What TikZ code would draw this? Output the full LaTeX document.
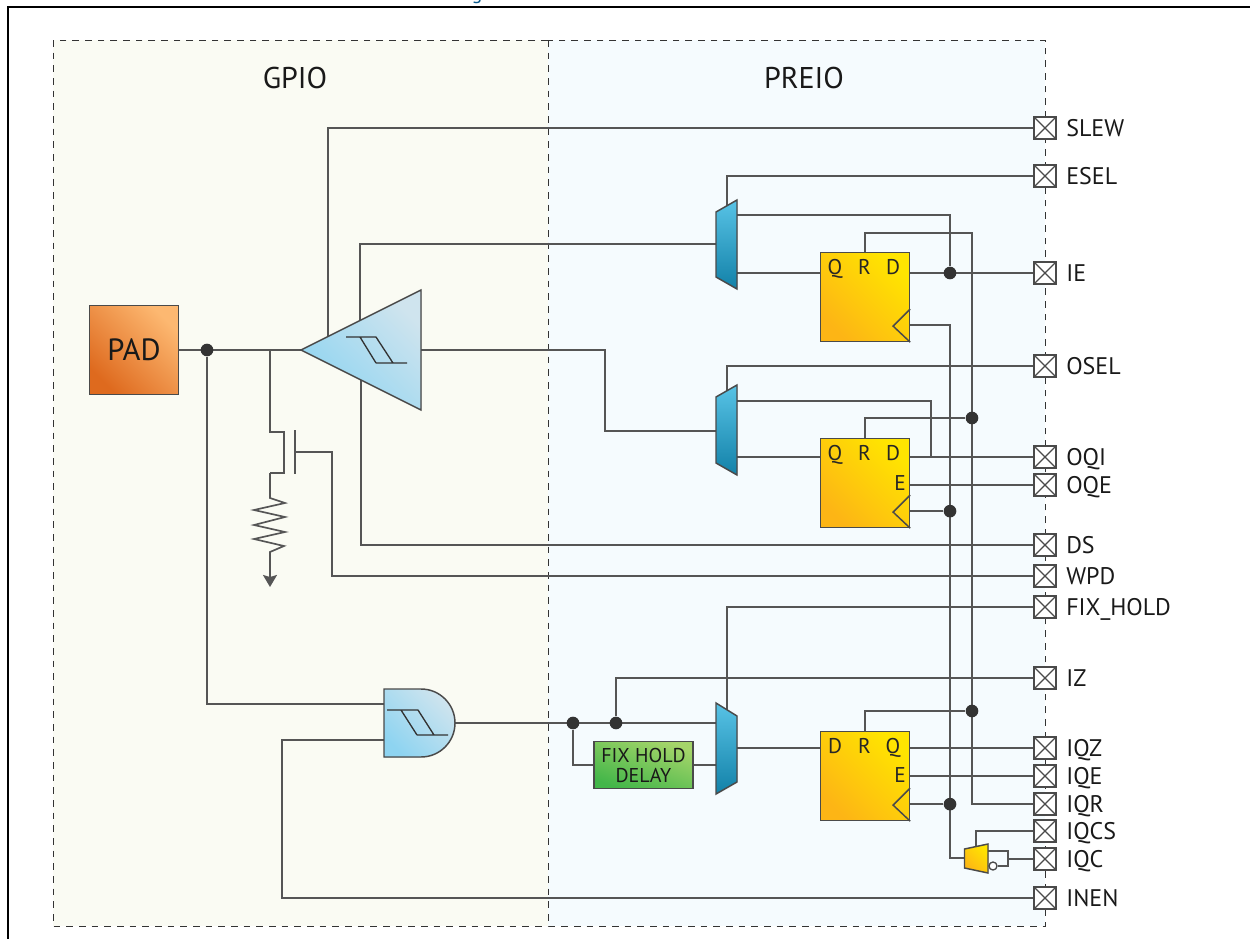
\documentclass[tikz,border=0pt]{standalone}
\usepackage{fontspec}
\setmainfont{PT Sans}
\usetikzlibrary{arrows.meta,calc}
\pgfdeclarelayer{panels}
\pgfdeclarelayer{wires}
\pgfsetlayers{panels,wires,main}
\definecolor{wirec}{HTML}{555555}
\definecolor{edgec}{HTML}{4A4A4A}
\definecolor{dotc}{HTML}{333333}
\definecolor{gpiobg}{HTML}{FAFBF3}
\definecolor{preiobg}{HTML}{F5FBFE}
\definecolor{linkc}{HTML}{0B5A8C}
\tikzset{
  x=0.75pt,y=-0.75pt,
  wire/.style={draw=wirec,line width=1.25pt},
  panel/.style={draw=dotc,line width=0.75pt,dash pattern=on 5pt off 4.5pt},
  pinbox/.style={rectangle,draw=edgec,line width=1.2pt,fill=white,minimum size=16.5pt,inner sep=0pt,
    path picture={\draw[edgec,line width=0.9pt] (path picture bounding box.north west)--(path picture bounding box.south east)
      (path picture bounding box.north east)--(path picture bounding box.south west);}},
  pinlabel/.style={anchor=base west,inner sep=0pt,font=\fontsize{18pt}{20pt}\selectfont,text=black!90},
  title/.style={inner sep=0pt,anchor=base,font=\fontsize{22.5pt}{24pt}\selectfont,text=black!90},
  junction/.style={circle,fill=dotc,inner sep=0pt,minimum size=9.5pt},
  ffbox/.style={rectangle,draw=edgec,line width=1.1pt,minimum size=66.5pt,inner sep=0pt,
    left color=ffa,right color=ffb,shading angle=135},
  fftext/.style={inner sep=0pt,anchor=base,font=\fontsize{16pt}{16pt}\selectfont,text=black!85},
  muxshape/.style={draw=edgec,line width=1.1pt,top color=muxa,bottom color=muxb},
  buffershape/.style={draw=edgec,line width=1.1pt,left color=bufa,right color=bufb,shading angle=135},
  schmitt/.style={draw=dotc,line width=1pt},
  padbox/.style={rectangle,draw=edgec,line width=1.1pt,minimum size=66.5pt,inner sep=0pt,
    left color=pada,right color=padb,shading angle=135,font=\fontsize{23pt}{24pt}\selectfont,text=black!90},
  delaybox/.style={rectangle,draw=edgec,line width=1.1pt,minimum width=74pt,minimum height=35pt,inner sep=0pt,
    align=center,left color=grna,right color=grnb,shading angle=160,font=\fontsize{15pt}{17pt}\selectfont,text=black!90},
}
\definecolor{ffa}{HTML}{FDB515}
\definecolor{ffb}{HTML}{FFE500}
\definecolor{muxa}{HTML}{58C3E6}
\definecolor{muxb}{HTML}{1281A8}
\definecolor{bufa}{HTML}{8ED4F1}
\definecolor{bufb}{HTML}{CFE4EE}
\definecolor{pada}{HTML}{DE6A1E}
\definecolor{padb}{HTML}{FDB871}
\definecolor{grna}{HTML}{43B649}
\definecolor{grnb}{HTML}{A5D56A}
\newcommand{\pinat}[3]{%
  \node[pinbox] (p#1) at (1045,#2) {};
  \node[pinlabel] (l#1) at (1066,#2+8.5) {#3};}
\newcommand{\flipflop}[2]{% name, top-left
  \node[ffbox,anchor=north west] (#1) at (#2) {};
  \draw[edgec,line width=1.1pt] ($(#1.south east)+(0,-33)$) -- ($(#1.south east)+(-17,-16)$) -- (#1.south east);
  \coordinate (#1clk) at ($(#1.south east)+(0,-17)$);}
\begin{document}
\begin{tikzpicture}
\useasboundingbox (0,0) rectangle (1250,939);
\begin{pgfonlayer}{panels}
  \fill[white] (0,0) rectangle (1250,939);
  \draw[black,line width=1.5pt] (8,939) -- (8,6.5) -- (1250,6.5);
  \node[inner sep=0pt,anchor=base,text=linkc,font=\fontsize{15pt}{16pt}\selectfont] (topg) at (477,-1) {g};
  \filldraw[panel,fill=gpiobg] (53,40) rectangle (548,926);
  \filldraw[panel,fill=preiobg] (548,40) rectangle (1045,926);
\end{pgfonlayer}

\node[title] (tgpio) at (295,88) {GPIO};
\node[title] (tpreio) at (804,88) {PREIO};

% pins
\pinat{slew}{128}{SLEW}
\pinat{esel}{176}{ESEL}
\pinat{ie}{273}{IE}
\pinat{osel}{366}{OSEL}
\pinat{oqi}{457}{OQI}
\pinat{oqe}{485}{OQE}
\pinat{ds}{545}{DS}
\pinat{wpd}{576}{WPD}
\pinat{fix}{607}{FIX\_HOLD}
\pinat{iz}{678}{IZ}
\pinat{iqz}{748}{IQZ}
\pinat{iqe}{776}{IQE}
\pinat{iqr}{804}{IQR}
\pinat{iqcs}{831}{IQCS}
\pinat{iqc}{859}{IQC}
\pinat{inen}{898}{INEN}

% pad
\node[padbox] (pad) at (134,350) {PAD};

% input buffer
\filldraw[buffershape] (301,350) -- (421,290) -- (421,410) -- cycle;
\draw[schmitt] (346,337) -- (376,337) (360,337) -- (376,363) (376,337) -- (393,363) (376,363) -- (407,363);
\coordinate (buftip) at (301,350);
\coordinate (bufout) at (421,350);
\coordinate (bufslew) at (328,337);
\coordinate (bufie) at (360,320);
\coordinate (bufds) at (361,380);

% schmitt AND
\filldraw[buffershape] (384,689) -- (421,689) arc (-90:90:34) -- (384,757) -- cycle;
\draw[schmitt] (387,710) -- (418,710) (401,710) -- (417,735) (418,710) -- (434,735) (417,735) -- (448,735);
\coordinate (anda) at (384,704);
\coordinate (andb) at (384,740);
\coordinate (andout) at (455,723);

% muxes
\filldraw[muxshape] (716,212) -- (737,200) -- (737,289) -- (716,277) -- cycle;
\filldraw[muxshape] (716,397) -- (737,385) -- (737,475) -- (716,463) -- cycle;
\filldraw[muxshape] (716,703) -- (737,716) -- (737,782) -- (716,794) -- cycle;
\coordinate (m1in) at (716,244);
\coordinate (m1sel) at (727,206);
\coordinate (m1a) at (737,215);
\coordinate (m1b) at (737,273);
\coordinate (m2in) at (716,431);
\coordinate (m2sel) at (727,391);
\coordinate (m2a) at (737,401);
\coordinate (m2b) at (737,457);
\coordinate (m3a) at (716,723);
\coordinate (m3b) at (716,765);
\coordinate (m3sel) at (727,710);
\coordinate (m3out) at (737,748);

% flip-flops
\flipflop{ffa1}{820,252}
\flipflop{ffb1}{820,438}
\flipflop{ffc1}{820,731}
\node[fftext] (qa) at (835,274) {Q};
\node[fftext] (ra) at (864.5,274) {R};
\node[fftext] (da) at (893,274) {D};
\node[fftext] (qb) at (835,460) {Q};
\node[fftext] (rb) at (864.5,460) {R};
\node[fftext] (db) at (893,460) {D};
\node[fftext] (eb) at (900,490) {E};
\node[fftext] (dc) at (835,753) {D};
\node[fftext] (rc) at (864.5,753) {R};
\node[fftext] (qc) at (893,753) {Q};
\node[fftext] (ec) at (900,782) {E};

% delay
\node[delaybox] (delay) at (643.5,765) {FIX HOLD\\[-2pt]DELAY};

% clock gate
\filldraw[draw=edgec,line width=1.1pt,left color=ffa,right color=ffb,shading angle=135] (964.5,849) -- (988,844) -- (988,873) -- (964.5,868) -- cycle;
\node[circle,draw=edgec,line width=1pt,fill=white,minimum size=6pt,inner sep=0pt] (bub) at (993,866) {};
\coordinate (cgin) at (964.5,858);
\coordinate (cgsel) at (976,847);
\coordinate (cgq) at (988,851);
\coordinate (cgj) at (1008,859);

% junctions
\node[junction] (jpad) at (207,350) {};
\node[junction] (jie) at (950,273) {};
\node[junction] (jr2) at (972,418) {};
\node[junction] (jc2) at (ffb1clk -| jie) {};
\node[junction] (jr3) at (972,711) {};
\node[junction] (jc3) at (ffc1clk -| jie) {};
\node[junction] (jin) at (573,723) {};
\node[junction] (jiz) at (616,723) {};

\coordinate (tap) at (270,350);
\coordinate (fetd) at (284,432);
\coordinate (fets) at (284,473);
\coordinate (resin) at (270,473);
\coordinate (gnd) at (270,587);
\coordinate (gate) at (295,452);

\begin{pgfonlayer}{wires}
  \draw[wire] (pad.east) -- (buftip);
  \draw[wire] (jpad) |- (anda);
  \draw[wire] (andb) -| (282,820) |- (pinen.west);
  \draw[wire] (bufslew) |- (pslew.west);
  \draw[wire] (bufie) |- (m1in);
  \draw[wire] (bufds) |- (pds.west);
  \draw[wire] (bufout) -| (605,390) |- (m2in);
  % pull-down transistor and resistor
  \draw[wire] (tap) |- (fetd) -- (fets) -| (resin);
  \draw[wire,-{Stealth[length=9pt,width=10.5pt,inset=1.5pt]}] (resin) -- (270,498) -- (285,503) -- (254,510) -- (285,517) -- (254,525) -- (285,532) -- (254,539) -- (284,546) -- (270,552) -- (gnd);
  \draw[wire] (295,430) -- (295,474);
  \draw[wire] (gate) -| (332,520) |- (pwpd.west);
  % muxes to pins
  \draw[wire] (m1sel) |- (pesel.west);
  \draw[wire] (m2sel) |- (posel.west);
  \draw[wire] (m3sel) |- (pfix.west);
  \draw[wire] (m1a) -| (jie);
  \draw[wire] (m1b) -- (ffa1.west |- m1b);
  \draw[wire] (m2a) -| (931,457);
  \draw[wire] (m2b) -- (ffb1.west |- m2b);
  \draw[wire] (m3out) -- (ffc1.west |- m3out);
  \draw[wire] (andout) -- (m3a);
  \draw[wire] (jiz) |- (piz.west);
  \draw[wire] (jin) |- (delay.west);
  \draw[wire] (delay.east) -- (m3b |- delay.east);
  % flip-flop outputs
  \draw[wire] (ffa1.east |- pie) -- (pie.west);
  \draw[wire] (ffb1.east |- poqi) -- (poqi.west);
  \draw[wire] (ffb1.east |- poqe) -- (poqe.west);
  \draw[wire] (ffc1.east |- piqz) -- (piqz.west);
  \draw[wire] (ffc1.east |- piqe) -- (piqe.west);
  % reset net
  \draw[wire] (ffa1.north) |- (972,233) -- (972,700) |- (piqr.west);
  \draw[wire] (ffb1.north) |- (jr2);
  \draw[wire] (ffc1.north) |- (jr3);
  % clock net
  \draw[wire] (ffa1clk) -| (950,600) |- (cgin);
  \draw[wire] (ffb1clk) -- (jc2);
  \draw[wire] (ffc1clk) -- (jc3);
  % clock gate
  \draw[wire] (cgsel) |- (piqcs.west);
  \draw[wire] (cgq) -| (cgj) |- (bub.east);
  \draw[wire] (cgj) -- (piqc.west);
\end{pgfonlayer}
\end{tikzpicture}
\end{document}
